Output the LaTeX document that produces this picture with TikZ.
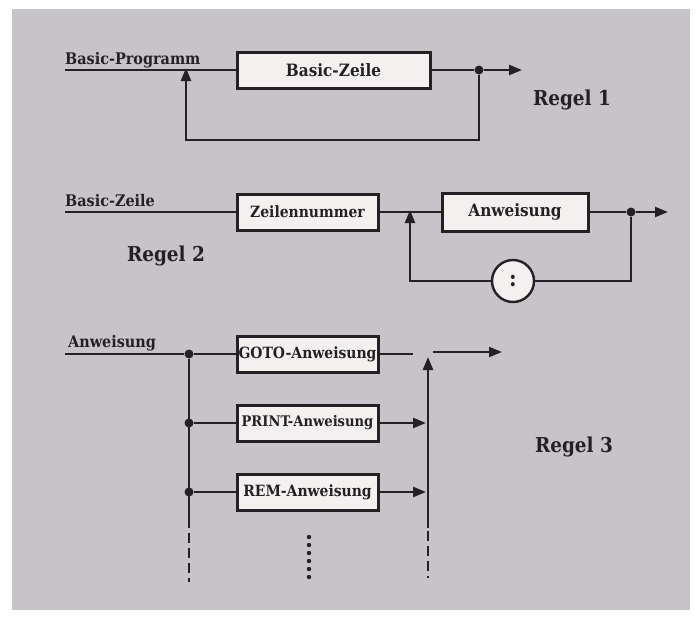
\documentclass[tikz,border=0pt]{standalone}
\usepackage{fontspec}
\setmainfont{DejaVu Serif Condensed}
\usetikzlibrary{arrows.meta}
\definecolor{bggray}{RGB}{199,196,201}
\definecolor{boxfill}{RGB}{242,241,240}
\definecolor{ink}{RGB}{35,33,36}
\tikzset{
  line/.style={draw=ink, line width=2.4pt},
  arr/.style={line, -{Triangle[length=13pt,width=10pt]}},
  boxnode/.style={draw=ink, line width=3pt, fill=boxfill, minimum height=36pt, inner sep=0pt, font=\fontsize{15.5}{18}\selectfont\bfseries, text=ink},
  bigtext/.style={font=\fontsize{17}{18}\selectfont\bfseries},
  lab/.style={font=\fontsize{16}{18}\selectfont\bfseries, text=ink, inner sep=0pt, anchor=base west},
  rule/.style={font=\fontsize{20.5}{24}\selectfont\bfseries, text=ink, inner sep=0pt},
  dotnode/.style={circle, fill=ink, inner sep=0pt, minimum size=9pt},
  dashline/.style={draw=ink, line width=2.8pt, dash pattern=on 10pt off 5pt},
}
\begin{document}
\begin{tikzpicture}[x=1pt,y=-1pt]
\useasboundingbox (0,0) rectangle (700,621);
\fill[bggray] (12,9) rectangle (690,610);

% Regel 1
\coordinate (s1) at (65,70);
\node[lab] (l1) at (65,64) {Basic-Programm};
\node[boxnode, bigtext, minimum width=193pt] (b1) at (333.5,70) {Basic-Zeile};
\node[dotnode] (d1) at (479,70) {};
\coordinate (e1) at (522,70);
\coordinate (j1) at (186,70);
\coordinate (k1) at (479,140);
\draw[line] (s1) -- (b1.west);
\draw[line] (b1.east) -- (d1);
\draw[arr] (d1) -- (e1);
\draw[arr] (d1) -- (k1) -| ([yshift=2pt]j1);
\node[rule] (r1) at (572,100) {Regel 1};

% Regel 2
\coordinate (s2) at (65,212);
\node[lab] (l2) at (65,206) {Basic-Zeile};
\node[boxnode, minimum width=141pt] (z2) at (307.5,212) {Zeilennummer};
\node[boxnode, bigtext, minimum width=146pt, minimum height=38pt] (a2) at (515,212) {Anweisung};
\coordinate (j2) at (410,212);
\node[dotnode] (d2) at (631,212) {};
\coordinate (e2) at (668,212);
\node[circle, draw=ink, line width=2.4pt, fill=boxfill, minimum size=42pt, inner sep=0pt, font=\fontsize{23}{24}\selectfont\bfseries, text=ink] (c2) at (513,281) {:};
\draw[line] (s2) -- (z2.west);
\draw[line] (z2.east) -- (a2.west);
\draw[line] (a2.east) -- (d2);
\draw[arr] (d2) -- (e2);
\draw[line] (d2) |- (c2.east);
\draw[arr] (c2.west) -| ([yshift=2pt]j2);
\node[rule] (r2) at (166,256) {Regel 2};

% Regel 3
\coordinate (s3) at (65,354);
\node[lab] (l3) at (68,347) {Anweisung};
\node[dotnode] (d3a) at (189,354) {};
\node[dotnode] (d3b) at (189,423) {};
\node[dotnode] (d3c) at (189,492) {};
\node[boxnode, minimum width=141pt] (g3) at (307.5,354) {GOTO-Anweisung};
\node[boxnode, minimum width=141pt, font=\fontsize{14.6}{18}\selectfont\bfseries] (p3) at (307.5,423) {PRINT-Anweisung};
\node[boxnode, minimum width=141pt] (m3) at (307.5,492) {REM-Anweisung};
\coordinate (ge) at (413,354);
\coordinate (pe) at (426,423);
\coordinate (me) at (426,492);
\coordinate (lb) at (189,528);
\coordinate (lb1) at (189,533);
\coordinate (lb2) at (189,582);
\coordinate (rb) at (428,528);
\coordinate (rt) at (428,357);
\coordinate (rb1) at (428,531);
\coordinate (rb2) at (428,578);
\coordinate (os) at (433,352);
\coordinate (oe) at (502,352);
\draw[line] (s3) -- (d3a) -- (g3.west);
\draw[line] (d3a) -- (lb);
\draw[dashline] (lb1) -- (lb2);
\draw[line] (d3b) -- (p3.west);
\draw[line] (d3c) -- (m3.west);
\draw[line] (g3.east) -- (ge);
\draw[arr] (p3.east) -- (pe);
\draw[arr] (m3.east) -- (me);
\draw[arr] (rb) -- (rt);
\draw[dashline] (rb1) -- (rb2);
\draw[arr] (os) -- (oe);
\foreach \i in {0,...,5} {
  \fill[ink] (309,{537+8*\i}) circle (2.2pt);
}
\node[rule] (r3) at (574,447) {Regel 3};
\end{tikzpicture}
\end{document}
